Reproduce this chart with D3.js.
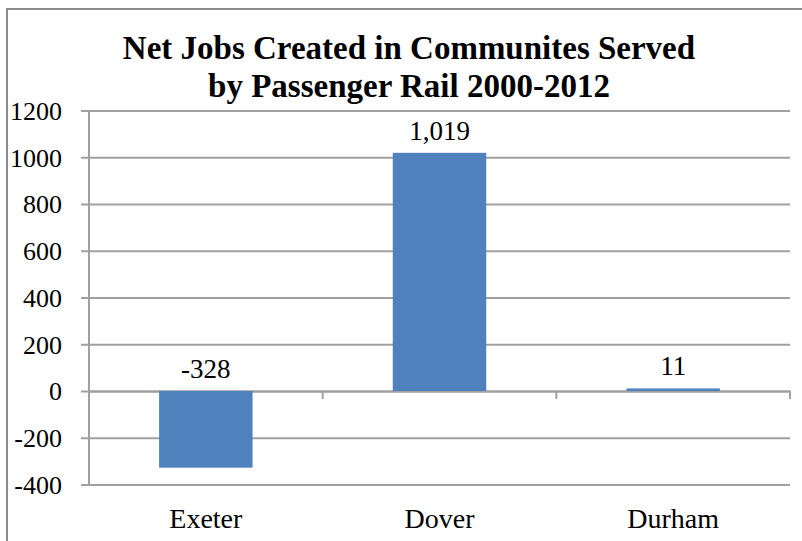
<!DOCTYPE html>
<html>
<head>
<meta charset="utf-8">
<script src="https://cdn.jsdelivr.net/npm/d3@7"></script>
<style>
  body { margin: 0; background: #fff; }
  text { font-family: "Liberation Serif", "Times New Roman", serif; fill: #000; }
</style>
</head>
<body>
<svg id="chart" width="802" height="541"></svg>
<script>
// data
const towns = ["Exeter", "Dover", "Durham"]
const netJobs = [-328, 1019, 11]
const yTicks = [-400, -200, 0, 200, 400, 600, 800, 1000, 1200]
const titleLines = ["Net Jobs Created in Communites Served", "by Passenger Rail 2000-2012"]

let svg = d3.select("#chart")

let margin = { top: 110.5, right: 12, bottom: 56.5, left: 89 }
let width = 802 - margin.left - margin.right
let height = 541 - margin.top - margin.bottom

// plain hyphen minus, like the original
let plain = d => String(d)
let withComma = d => d3.format(",")(d).replace("\u2212", "-")

// outer frame
svg.append("rect")
    .attr("x", 7)
    .attr("y", 9)
    .attr("width", 820)
    .attr("height", 560)
    .style("fill", "none")
    .style("stroke", "#8c8c8c")
    .style("stroke-width", 2)

svg.selectAll(".title")
    .data(titleLines)
    .enter().append("text")
      .attr("class", "title")
      .attr("x", 409)
      .attr("y", (d, i) => 59 + i * 38)
      .style("text-anchor", "middle")
      .style("font-weight", "bold")
      .style("font-size", "33px")
      .text(d => d)

let xScale = d3.scaleBand()
    .domain(towns)
    .range([0, width])

let yScale = d3.scaleLinear()
    .domain([-400, 1200])
    .range([height, 0])

let g = svg.append("g")
    .attr("transform", "translate(" + margin.left + "," + margin.top + ")")

// gridlines + y axis
let yAxis = d3.axisLeft(yScale)
    .tickValues(yTicks)
    .tickSize(-width)
    .tickPadding(27)
    .tickFormat(plain)

let gY = g.append("g").call(yAxis)
gY.select(".domain").remove()
gY.selectAll(".tick line")
    .attr("x1", -8)
    .style("stroke", "#a0a0a0")
    .style("stroke-width", 2)
gY.selectAll(".tick text")
    .style("font-size", "26px")
    .attr("dy", "0.34em")

g.append("line")
    .attr("x1", 0).attr("x2", 0)
    .attr("y1", 0).attr("y2", height)
    .style("stroke", "#a0a0a0")
    .style("stroke-width", 2)

// category axis sits on zero
let xAxis = d3.axisBottom(xScale)
    .tickSize(0)
    .tickFormat(d => d)

let gX = g.append("g")
    .attr("transform", "translate(0," + yScale(0) + ")")
    .call(xAxis)
gX.select(".domain")
    .style("stroke", "#a0a0a0")
    .style("stroke-width", 2)
gX.selectAll(".tick text")
    .attr("y", height - yScale(0) + 43)
    .attr("dy", 0)
    .style("font-size", "28px")

// small separators between categories
g.selectAll(".sep")
    .data(towns)
    .enter().append("line")
      .attr("x1", d => xScale(d) + xScale.bandwidth())
      .attr("x2", d => xScale(d) + xScale.bandwidth())
      .attr("y1", yScale(0))
      .attr("y2", yScale(0) + 8)
      .style("stroke", "#a0a0a0")
      .style("stroke-width", 2)

let barW = xScale.bandwidth() * 0.4
let bars = towns.map((t, i) => ({ town: t, value: netJobs[i] }))

g.selectAll(".bar")
    .data(bars)
    .enter().append("rect")
      .attr("x", d => xScale(d.town) + (xScale.bandwidth() - barW) / 2)
      .attr("y", d => yScale(Math.max(d.value, 0)))
      .attr("width", barW)
      .attr("height", d => Math.abs(yScale(d.value) - yScale(0)))
      .style("fill", "#4f81bd")

g.selectAll(".label")
    .data(bars)
    .enter().append("text")
      .attr("x", d => xScale(d.town) + xScale.bandwidth() / 2)
      .attr("y", d => yScale(Math.max(d.value, 0)) - 13)
      .style("text-anchor", "middle")
      .style("font-size", "27px")
      .text(d => withComma(d.value))
</script>
</body>
</html>
